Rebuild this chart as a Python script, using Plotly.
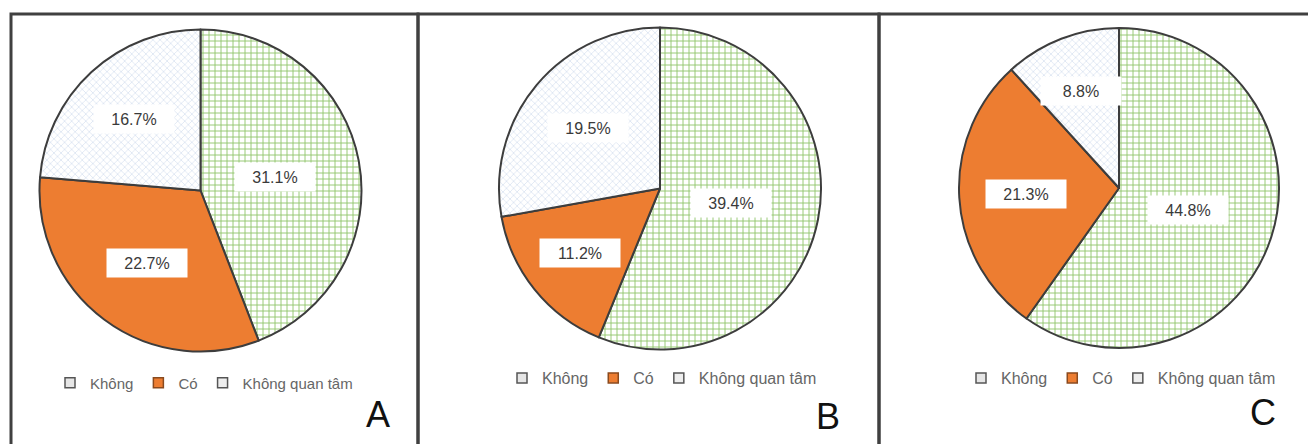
import math
import plotly.graph_objects as go

# ---- data ----
categories = ["Không", "Có", "Không quan tâm"]
values_a = [31.1, 22.7, 16.7]
values_b = [39.4, 11.2, 19.5]
values_c = [44.8, 21.3, 8.8]
panel_letters = ["A", "B", "C"]

# ---- layout constants (target pixels in the screenshot) ----
W, H = 1316, 444
OFF = 8  # default page body margin
pie_geo = [(200.5, 190.5, 161), (660, 188.5, 161), (1119, 188, 160)]
legend_pos = [(204, 383), (662, 378), (1121, 378)]
legend_font = [15, 16, 16]
letter_pos = [(378, 414), (828, 416), (1263, 412)]
boxes = [(11, 418), (418, 879), (879, 1312)]


def X(px):
    return (px - OFF) / W


def Y(py):
    return 1 - (py - OFF) / H


FONT = "Liberation Sans, Arial, sans-serif"
GREEN_FG = "#8fc46a"
DOT_FG = "#c9d6ea"
ORANGE = "#ED7D31"
EDGE = "#3d3d3d"
legend_fill = ["#e6e6e6", ORANGE, "#eeeeee"]
legend_edge = ["#555555", "#8a4a1e", "#555555"]

fig = go.Figure()
annotations = []
shapes = []
legend_names = ["legend", "legend2", "legend3"]

for i, vals in enumerate([values_a, values_b, values_c]):
    cx, cy, r = pie_geo[i]
    fig.add_trace(go.Pie(
        labels=categories,
        values=vals,
        sort=False,
        direction="clockwise",
        rotation=0,
        textinfo="none",
        hoverinfo="label+value",
        domain=dict(x=[X(cx - r), X(cx + r)], y=[Y(cy + r), Y(cy - r)]),
        marker=dict(
            colors=["white", ORANGE, "white"],
            line=dict(color=EDGE, width=2),
            pattern=dict(
                shape=["+", "", "x"],
                fgcolor=[GREEN_FG, ORANGE, DOT_FG],
                bgcolor=["white", ORANGE, "white"],
                size=[6, 6, 5],
                solidity=[0.28, 0.3, 0.2],
                fillmode="replace",
            ),
        ),
        showlegend=False,
    ))

    # legend entries (one legend per panel)
    for j, cat in enumerate(categories):
        fig.add_trace(go.Scatter(
            x=[None], y=[None], mode="markers", name=cat,
            marker=dict(symbol="square", size=10, color=legend_fill[j],
                        line=dict(color=legend_edge[j], width=1.5)),
            legend=legend_names[i], showlegend=True, hoverinfo="skip",
        ))

    # data labels with white boxes, placed at slice centroid
    total = sum(vals)
    start = 0.0
    for v in vals:
        frac = v / total
        ang = 2 * math.pi * frac
        mid = start + ang / 2
        half = ang / 2
        d = (2 * math.sin(half)) / (3 * half)
        d = max(d, 0.45)
        px = cx + d * r * math.sin(mid)
        py = cy - d * r * math.cos(mid)
        annotations.append(dict(
            x=X(px), y=Y(py), xref="paper", yref="paper",
            text=f"{v}%", showarrow=False,
            font=dict(family=FONT, size=16, color="#3a3a3a"),
            bgcolor="white", width=74, height=22, borderpad=3,
            xanchor="center", yanchor="middle",
        ))
        start += ang

    lx, ly = letter_pos[i]
    annotations.append(dict(
        x=X(lx), y=Y(ly), xref="paper", yref="paper",
        text=panel_letters[i], showarrow=False,
        font=dict(family=FONT, size=36, color="#111111"),
        xanchor="center", yanchor="middle",
    ))

    x0, x1 = boxes[i]
    shapes.append(dict(
        type="rect", xref="paper", yref="paper",
        x0=X(x0), x1=X(x1), y0=-0.2, y1=Y(14),
        line=dict(color="#404040", width=3), layer="below",
    ))

layout_legends = {}
for i, name in enumerate(legend_names):
    lx, ly = legend_pos[i]
    layout_legends[name] = dict(
        orientation="h", x=X(lx), y=Y(ly),
        xanchor="center", yanchor="middle",
        font=dict(family=FONT, size=legend_font[i], color="#666666"),
        itemwidth=30, bgcolor="rgba(0,0,0,0)",
        traceorder="normal",
    )

fig.update_layout(
    width=W, height=H,
    margin=dict(l=0, r=0, t=0, b=0),
    paper_bgcolor="white",
    plot_bgcolor="white",
    xaxis=dict(visible=False),
    yaxis=dict(visible=False),
    annotations=annotations,
    shapes=shapes,
    **layout_legends,
)

fig.write_html("out.html")
